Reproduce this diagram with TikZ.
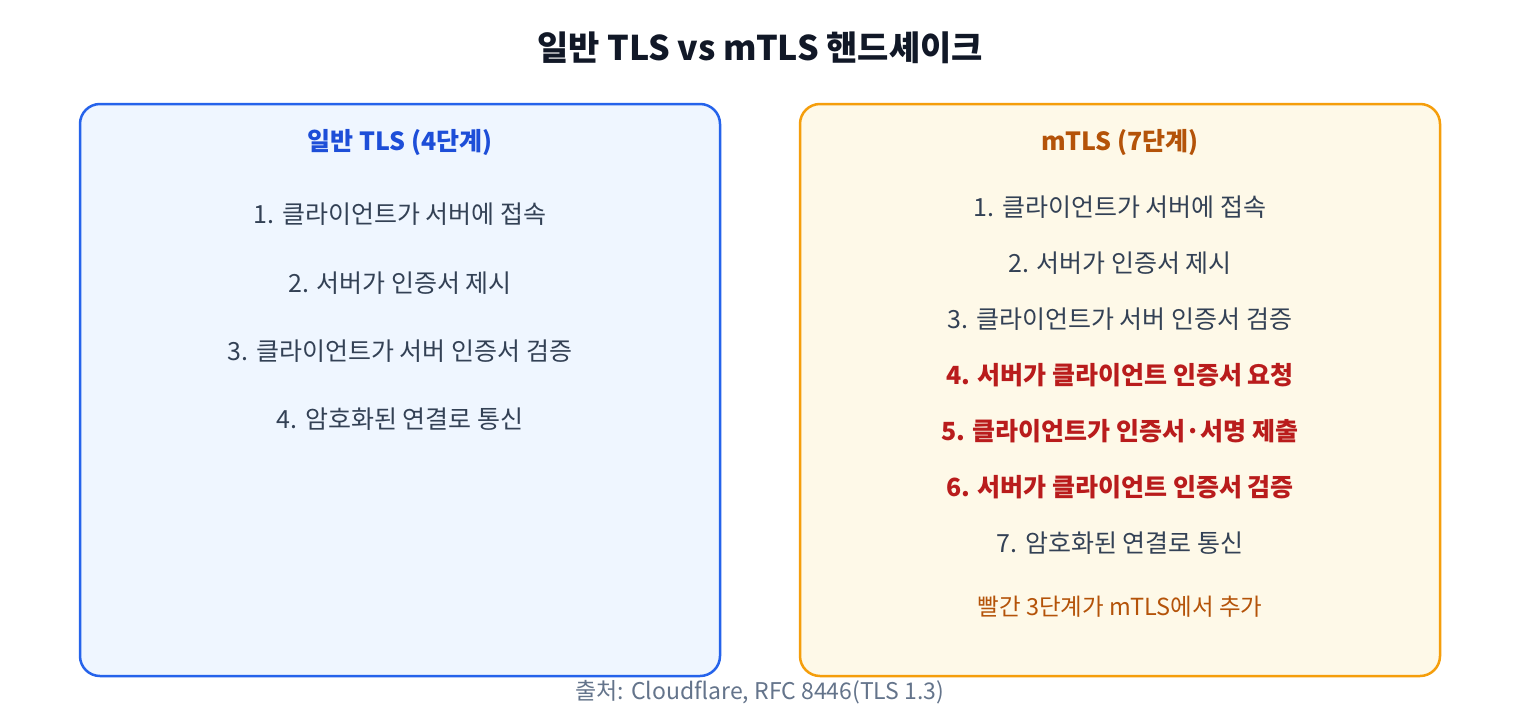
\documentclass[tikz,border=0pt]{standalone}
\usepackage{fontspec}
\setmainfont{Noto Sans CJK KR}
\usepackage{xcolor}
\usepackage{tikz}
\usetikzlibrary{positioning}
\definecolor{ink}{HTML}{111827}
\definecolor{body}{HTML}{334155}
\definecolor{muted}{HTML}{64748B}
\definecolor{tlsline}{HTML}{2563EB}
\definecolor{tlsfill}{HTML}{EFF6FF}
\definecolor{tlshead}{HTML}{1D4ED8}
\definecolor{mline}{HTML}{F59E0B}
\definecolor{mfill}{HTML}{FEF9E8}
\definecolor{mhead}{HTML}{B45309}
\definecolor{added}{HTML}{B91C1C}
\tikzset{
  Panel/.style={
    line width=2.5pt, rounded corners=20pt
  },
  StepText/.style={
    text=body, font=\fontsize{25}{30}\selectfont, inner sep=0pt
  },
  NewStep/.style={
    StepText, text=added, font=\fontsize{25}{30}\selectfont\bfseries
  },
  HeadText/.style={
    font=\fontsize{25}{30}\selectfont\bfseries, inner sep=0pt
  }
}

\begin{document}
\begin{tikzpicture}[x=1pt, y=-1pt]
  \useasboundingbox (0,0) rectangle (1520,720);
  \fill[white] (0,0) rectangle (1520,720);

  % title
  \node[text=ink, font=\fontsize{34}{40}\selectfont\bfseries] (title) at (760,48)
    {일반 TLS vs mTLS 핸드셰이크};

  % two panels
  \draw[Panel, draw=tlsline, fill=tlsfill] (80,104) rectangle (720,676);
  \draw[Panel, draw=mline, fill=mfill] (800,104) rectangle (1440,676);

  % plain TLS steps
  \node[HeadText, text=tlshead] (tlsHead) at (400,143) {일반 TLS (4단계)};
  \node[StepText] (tls1) at (400,214) {1. 클라이언트가 서버에 접속};
  \node[StepText] (tls2) at (400,283) {2. 서버가 인증서 제시};
  \node[StepText] (tls3) at (400,351) {3. 클라이언트가 서버 인증서 검증};
  \node[StepText] (tls4) at (400,419) {4. 암호화된 연결로 통신};

  % mutual TLS steps
  \node[HeadText, text=mhead] (mHead) at (1120,143) {mTLS (7단계)};
  \node[StepText] (m1) at (1120,207) {1. 클라이언트가 서버에 접속};
  \node[StepText] (m2) at (1120,263) {2. 서버가 인증서 제시};
  \node[StepText] (m3) at (1120,319) {3. 클라이언트가 서버 인증서 검증};
  \node[NewStep] (m4) at (1120,375) {4. 서버가 클라이언트 인증서 요청};
  \node[NewStep] (m5) at (1120,431) {5. 클라이언트가 인증서·서명 제출};
  \node[NewStep] (m6) at (1120,487) {6. 서버가 클라이언트 인증서 검증};
  \node[StepText] (m7) at (1120,543) {7. 암호화된 연결로 통신};
  \node[StepText, text=mhead, font=\fontsize{23.5}{28}\selectfont] (mNote) at (1120,607)
    {빨간 3단계가 mTLS에서 추가};

  % source line
  \node[text=muted, font=\fontsize{23}{28}\selectfont, inner sep=0pt] (source) at (760,692)
    {출처: Cloudflare, RFC 8446(TLS 1.3)};
\end{tikzpicture}
\end{document}
